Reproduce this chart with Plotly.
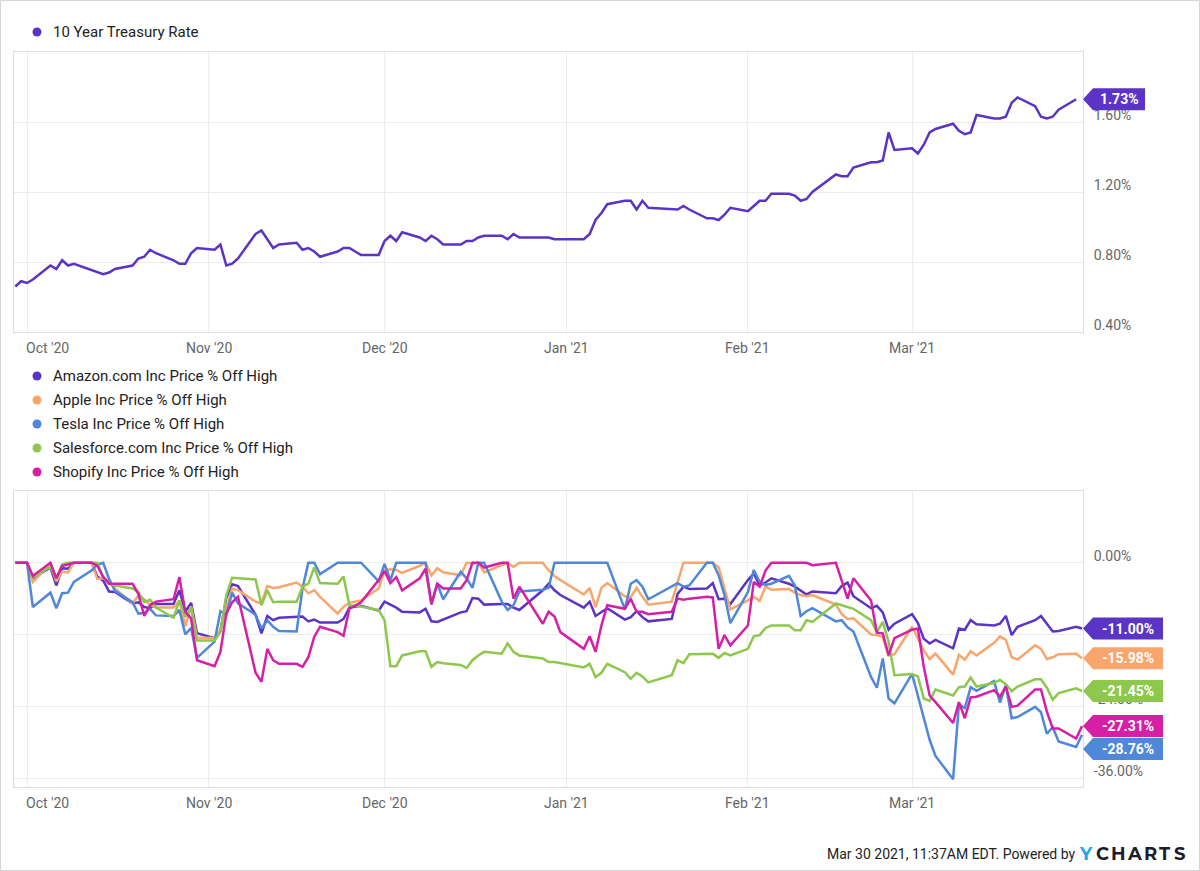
import plotly.graph_objects as go

# ------------------------------------------------------------------ data
MONTHS = ["2020-09", "2020-10", "2020-11", "2020-12", "2021-01", "2021-02", "2021-03"]

STOCK_DAYS = [
    [29, 30],
    [1, 2, 5, 6, 7, 8, 9, 12, 13, 14, 15, 16, 19, 20, 21, 22, 23, 26, 27, 28, 29, 30],
    [2, 3, 4, 5, 6, 9, 10, 11, 12, 13, 16, 17, 18, 19, 20, 23, 24, 25, 27, 30],
    [1, 2, 3, 4, 7, 8, 9, 10, 11, 14, 15, 16, 17, 18, 21, 22, 23, 24, 28, 29, 30, 31],
    [4, 5, 6, 7, 8, 11, 12, 13, 14, 15, 19, 20, 21, 22, 25, 26, 27, 28, 29],
    [1, 2, 3, 4, 5, 8, 9, 10, 11, 12, 16, 17, 18, 19, 22, 23, 24, 25, 26],
    [1, 2, 3, 4, 5, 8, 9, 10, 11, 12, 15, 16, 17, 18, 19, 22, 23, 24, 25, 26, 29, 30],
]
TREASURY_DAYS = [
    [29, 30],
    [1, 2, 5, 6, 7, 8, 9, 13, 14, 15, 16, 19, 20, 21, 22, 23, 26, 27, 28, 29, 30],
    [2, 3, 4, 5, 6, 9, 10, 12, 13, 16, 17, 18, 19, 20, 23, 24, 25, 27, 30],
    [1, 2, 3, 4, 7, 8, 9, 10, 11, 14, 15, 16, 17, 18, 21, 22, 23, 24, 28, 29, 30, 31],
    [4, 5, 6, 7, 8, 11, 12, 13, 14, 15, 19, 20, 21, 22, 25, 26, 27, 28, 29],
    [1, 2, 3, 4, 5, 8, 9, 10, 11, 12, 16, 17, 18, 19, 22, 23, 24, 25, 26],
    [1, 2, 3, 4, 5, 8, 9, 10, 11, 12, 15, 16, 17, 18, 19, 22, 23, 24, 25, 26, 29],
]

TREASURY_RATE = [
    0.66, 0.69,
    0.68, 0.70, 0.78, 0.76, 0.81, 0.78, 0.79, 0.74, 0.73, 0.74, 0.76, 0.78, 0.82, 0.83, 0.87, 0.85, 0.81, 0.79, 0.79, 0.85, 0.88,
    0.87, 0.90, 0.78, 0.79, 0.82, 0.96, 0.98, 0.88, 0.90, 0.91, 0.87, 0.88, 0.86, 0.83, 0.86, 0.88, 0.88, 0.84, 0.84,
    0.92, 0.95, 0.92, 0.97, 0.94, 0.92, 0.95, 0.93, 0.90, 0.90, 0.92, 0.92, 0.94, 0.95, 0.95, 0.93, 0.96, 0.94, 0.94, 0.94, 0.93, 0.93,
    0.93, 0.96, 1.04, 1.08, 1.13, 1.15, 1.15, 1.10, 1.15, 1.11, 1.10, 1.10, 1.12, 1.10, 1.05, 1.05, 1.04, 1.07, 1.11,
    1.09, 1.12, 1.15, 1.15, 1.19, 1.19, 1.18, 1.15, 1.16, 1.20, 1.30, 1.29, 1.29, 1.34, 1.37, 1.37, 1.38, 1.54, 1.44,
    1.45, 1.42, 1.47, 1.54, 1.56, 1.59, 1.55, 1.53, 1.54, 1.64, 1.62, 1.62, 1.63, 1.71, 1.74, 1.69, 1.63, 1.62, 1.63, 1.67, 1.73,
]

AMAZON = [
    0.0, 0.0,
    0.0, -2.6, -0.8, -3.8, -0.9, -1.0, 0.0, 0.0, -2.3, -3.0, -4.8, -4.9, -6.8, -6.6, -7.4, -7.6, -6.9, -6.9, -4.6, -8.2, -6.7, -11.8,
    -12.6, -11.4, -5.9, -3.6, -3.9, -8.7, -11.8, -8.9, -9.6, -9.2, -9.1, -9.0, -9.8, -9.5, -10.0, -10.0, -9.4, -7.5, -7.2, -8.0,
    -6.5, -7.0, -7.5, -8.2, -8.3, -7.7, -9.8, -9.9, -9.5, -8.3, -8.1, -5.9, -6.0, -7.0, -6.9, -6.9, -7.5, -7.9, -4.6, -3.5, -4.6, -5.4,
    -7.5, -6.5, -8.9, -8.2, -7.6, -9.5, -9.1, -8.1, -9.1, -9.8, -9.4, -5.2, -4.0, -4.4, -4.3, -3.4, -6.1, -6.0, -6.9,
    -2.9, -1.8, -3.8, -3.3, -2.6, -3.5, -4.0, -4.6, -5.3, -4.8, -5.1, -3.9, -3.3, -5.6, -7.6, -7.2, -8.3, -11.2, -10.2,
    -8.6, -10.1, -12.7, -13.5, -12.9, -14.3, -11.0, -11.2, -9.6, -10.3, -10.5, -10.2, -8.9, -12.1, -10.7, -9.6, -8.9, -10.3, -11.5, -11.4, -10.7, -11.00,
]
APPLE = [
    0.0, 0.0,
    0.0, -3.2, -0.2, -3.1, -1.5, -1.6, 0.0, 0.0, -2.7, -2.6, -3.0, -4.3, -6.8, -5.5, -6.1, -7.0, -7.5, -7.5, -6.3, -10.6, -7.3, -12.5,
    -12.6, -11.2, -7.6, -4.3, -4.6, -6.5, -6.8, -3.9, -4.2, -4.1, -3.3, -4.0, -5.1, -4.6, -5.7, -8.5, -7.4, -6.7, -6.3, -4.3,
    -1.3, -1.1, -1.2, -1.7, -0.5, 0.0, -2.1, -0.9, -1.6, -2.1, 0.0, -0.1, 0.0, -1.6, -0.4, 0.0, -0.7, 0.0, 0.0, -1.3, -2.2, -2.9,
    -5.3, -4.2, -7.4, -4.2, -3.4, -5.6, -5.8, -4.2, -5.7, -7.0, -6.5, -3.4, 0.0, 0.0, 0.0, 0.0, -0.8, -4.2, -7.8,
    -6.3, -5.7, -6.4, -4.0, -4.5, -4.4, -5.0, -5.4, -5.6, -5.4, -7.0, -8.6, -9.4, -9.3, -12.0, -12.1, -12.4, -15.5, -15.3,
    -10.7, -12.6, -14.7, -16.1, -15.2, -18.7, -15.4, -16.2, -14.8, -15.5, -13.4, -12.3, -12.9, -15.8, -16.2, -13.8, -14.4, -16.1, -15.8, -15.3, -15.2, -15.98,
]
TESLA = [
    0.0, 0.0,
    0.0, -7.4, -5.0, -7.6, -5.1, -5.0, -3.2, -1.3, -0.3, 0.0, -2.7, -4.7, -6.6, -8.5, -8.4, -7.7, -8.8, -8.9, -7.9, -12.0, -10.9, -15.9,
    -13.2, -8.1, -8.7, -5.0, -6.8, -8.7, -11.0, -9.6, -10.7, -11.4, -11.5, -4.3, 0.0, 0.0, -1.9, 0.0, 0.0, 0.0, 0.0, -3.1,
    -0.2, -2.9, 0.0, 0.0, 0.0, 0.0, -7.0, -3.5, -6.1, -1.5, -2.6, -4.2, 0.0, 0.0, -6.5, -7.9, -7.1, -4.8, -4.5, -4.2, 0.0, 0.0,
    0.0, 0.0, 0.0, 0.0, 0.0, -7.8, -3.5, -2.9, -4.0, -6.1, -4.0, -3.4, -4.0, -3.8, 0.0, 0.0, -2.1, -5.4, -10.1,
    -4.9, -1.2, -3.2, -3.7, -3.5, -2.2, -3.8, -8.9, -8.1, -7.6, -9.8, -9.6, -10.8, -11.5, -19.1, -20.9, -16.0, -22.7, -23.5,
    -18.6, -22.3, -26.0, -29.6, -32.3, -36.2, -23.7, -24.3, -20.8, -21.4, -19.8, -23.4, -20.5, -26.0, -25.8, -24.1, -25.0, -28.6, -27.5, -29.9, -30.8, -28.76,
]
SALESFORCE = [
    0.0, 0.0,
    0.0, -2.4, -0.7, -2.6, -0.3, 0.0, 0.0, 0.0, 0.0, -2.4, -3.5, -3.8, -4.3, -4.9, -6.6, -6.2, -7.5, -9.2, -6.3, -9.1, -7.5, -13.0,
    -13.0, -11.6, -5.5, -2.5, -2.6, -2.8, -7.1, -4.6, -6.6, -6.5, -6.5, -4.0, -3.5, -0.8, -3.4, -3.5, -2.3, -7.1, -7.3, -7.9,
    -9.6, -17.3, -17.3, -15.5, -14.8, -14.8, -17.4, -16.6, -16.8, -17.1, -17.6, -16.3, -15.5, -14.9, -15.2, -13.5, -14.9, -15.5, -16.0, -16.6, -16.6, -16.8,
    -17.5, -16.9, -19.1, -18.4, -16.9, -18.3, -19.4, -18.4, -19.0, -20.0, -18.8, -16.3, -16.8, -15.3, -15.3, -15.2, -15.9, -15.1, -15.5,
    -14.4, -12.3, -12.1, -10.9, -10.5, -10.5, -11.3, -11.3, -9.6, -9.9, -6.8, -7.1, -7.4, -7.7, -9.6, -11.6, -9.9, -13.2, -18.8,
    -18.6, -19.0, -22.7, -23.1, -21.2, -22.2, -20.8, -20.7, -19.2, -20.7, -20.1, -19.6, -20.3, -21.5, -20.7, -19.5, -19.5, -20.9, -22.9, -21.8, -21.0, -21.45,
]
SHOPIFY = [
    0.0, 0.0,
    0.0, -2.2, 0.0, -2.6, -0.5, -0.3, 0.0, 0.0, -0.5, -2.4, -3.5, -3.5, -3.5, -5.2, -8.9, -7.1, -6.5, -6.1, -2.4, -8.2, -9.3, -16.3,
    -17.3, -14.9, -8.5, -6.6, -5.7, -18.4, -19.9, -14.4, -16.3, -16.9, -16.9, -17.4, -15.8, -12.4, -10.7, -11.6, -12.2, -7.7, -6.6, -2.9,
    -1.4, -3.4, -2.4, -4.6, -2.6, -1.0, -6.9, -3.5, -4.3, -4.3, -2.9, 0.0, 0.0, -0.8, 0.0, 0.0, -6.0, -4.0, -10.2, -8.2, -9.0, -11.6,
    -14.4, -12.3, -14.9, -10.5, -7.1, -7.7, -6.0, -8.2, -8.2, -8.6, -8.2, -6.0, -6.2, -6.0, -5.7, -5.8, -14.4, -12.1, -13.8,
    -10.5, -3.2, -4.0, -1.3, 0.0, 0.0, 0.0, 0.0, 0.0, -0.4, 0.0, -3.0, -6.0, -2.6, -6.3, -11.7, -11.8, -15.5, -12.6,
    -11.2, -11.0, -17.4, -22.2, -23.3, -26.8, -23.3, -26.0, -22.5, -22.4, -21.3, -22.4, -20.7, -24.1, -23.9, -21.2, -21.2, -24.9, -27.7, -27.7, -29.4, -27.31,
]

TOP_NAME = "10 Year Treasury Rate"
STOCK_NAMES = [
    "Amazon.com Inc Price % Off High",
    "Apple Inc Price % Off High",
    "Tesla Inc Price % Off High",
    "Salesforce.com Inc Price % Off High",
    "Shopify Inc Price % Off High",
]
STOCK_VALUES = [AMAZON, APPLE, TESLA, SALESFORCE, SHOPIFY]
STOCK_COLORS = ["#5b34c6", "#f9a56c", "#4f88d9", "#8dc74c", "#d61fa6"]
TOP_COLOR = "#5b34c6"

TOP_TICKS = [0.4, 0.8, 1.2, 1.6]
BOT_TICKS = [0, -12, -24, -36]
MONTH_TICKS = ["2020-10-01", "2020-11-01", "2020-12-01", "2021-01-01", "2021-02-01", "2021-03-01"]
MONTH_LABELS = ["Oct '20", "Nov '20", "Dec '20", "Jan '21", "Feb '21", "Mar '21"]
FOOTER = "Mar 30 2021, 11:37AM EDT. Powered by"


def build_dates(days_by_month):
    out = []
    for m, days in zip(MONTHS, days_by_month):
        out += [f"{m}-{d:02d}" for d in days]
    return out


STOCK_DATES = build_dates(STOCK_DAYS)
TREASURY_DATES = build_dates(TREASURY_DAYS)

# ------------------------------------------------------------------ layout geometry (pixels)
FIG_W, FIG_H = 1200, 871
PL, PR = 14, 1083
TOP_T, TOP_B = 52, 332
BOT_T, BOT_B = 491, 787
PW, PH = PR - PL, BOT_B - TOP_T
X_RANGE = ["2020-09-28 18:45", "2021-03-30 04:00"]
TOP_RANGE = [0.4, 2.0]
BOT_RANGE = [-37.5, 12.0]
FONT = "Roboto, Arial, sans-serif"
GRID = "#ececec"
FRAME = "#dddddd"
TICK_COL = "#666666"
TEXT_COL = "#222222"


def xp(px):
    return (px - PL) / PW


def yp(py):
    return (BOT_B - py) / PH


fig = go.Figure()
fig.add_trace(go.Scatter(x=TREASURY_DATES, y=TREASURY_RATE, mode="lines", name=TOP_NAME,
                         line=dict(color=TOP_COLOR, width=2.5), xaxis="x", yaxis="y",
                         showlegend=False, hoverinfo="skip"))
for name, vals, col in zip(STOCK_NAMES, STOCK_VALUES, STOCK_COLORS):
    fig.add_trace(go.Scatter(x=STOCK_DATES, y=vals, mode="lines", name=name,
                             line=dict(color=col, width=2.5), xaxis="x2", yaxis="y2",
                             showlegend=False, hoverinfo="skip"))

xcommon = dict(type="date", range=X_RANGE, tickvals=MONTH_TICKS, showticklabels=False,
               showgrid=True, gridcolor=GRID, gridwidth=1, showline=True, mirror=True,
               linecolor=FRAME, linewidth=1, zeroline=False, ticks="")
ycommon = dict(side="right", showgrid=True, gridcolor=GRID, gridwidth=1, showline=True,
               mirror=True, linecolor=FRAME, linewidth=1, zeroline=False, ticks="",
               tickfont=dict(family=FONT, size=14, color=TICK_COL),
               ticklabelshift=-7, ticklabelstandoff=7)

fig.update_layout(
    width=FIG_W, height=FIG_H, autosize=False,
    margin=dict(l=PL, r=FIG_W - PR, t=TOP_T, b=FIG_H - BOT_B, pad=0),
    paper_bgcolor="white", plot_bgcolor="white",
    font=dict(family=FONT, size=14, color=TEXT_COL),
    showlegend=False,
    xaxis=dict(domain=[0, 1], anchor="y", **xcommon),
    xaxis2=dict(domain=[0, 1], anchor="y2", **xcommon),
    yaxis=dict(domain=[yp(TOP_B), 1], anchor="x", range=TOP_RANGE, tickvals=TOP_TICKS,
               ticktext=[f"{v:.2f}%" for v in TOP_TICKS], **ycommon),
    yaxis2=dict(domain=[0, yp(BOT_T)], anchor="x2", range=BOT_RANGE, tickvals=BOT_TICKS,
                ticktext=[f"{v:.2f}%" for v in BOT_TICKS], **ycommon),
)

shapes = []
ann = []

# outer frame of the picture
shapes.append(dict(type="rect", xref="paper", yref="paper", x0=xp(0.5), x1=xp(FIG_W - 0.5),
                   y0=yp(FIG_H - 0.5), y1=yp(0.5), line=dict(color="#d6d6d6", width=1),
                   layer="below"))

# month labels under both panels
for xr, yr in (("x", "y domain"), ("x2", "y2 domain")):
    for i, (tv, tl) in enumerate(zip(MONTH_TICKS, MONTH_LABELS)):
        ann.append(dict(x=tv, xref=xr, y=0, yref=yr, yanchor="middle", yshift=-16,
                        xshift=20 if i == 0 else 0, text=tl, showarrow=False,
                        font=dict(family=FONT, size=14, color=TICK_COL)))


# legends
def legend_item(row_y, color, label):
    shapes.append(dict(type="circle", xref="paper", yref="paper", xsizemode="pixel",
                       ysizemode="pixel", xanchor=xp(37), yanchor=yp(row_y),
                       x0=-4.5, x1=4.5, y0=-4.5, y1=4.5, fillcolor=color,
                       line=dict(width=0)))
    ann.append(dict(x=xp(51), y=yp(row_y), xref="paper", yref="paper", xanchor="left",
                    yanchor="middle", text=label, showarrow=False,
                    font=dict(family=FONT, size=15, color=TEXT_COL)))


legend_item(32, TOP_COLOR, TOP_NAME)
for k, (name, col) in enumerate(zip(STOCK_NAMES, STOCK_COLORS)):
    legend_item(376 + 24 * k, col, name)


# value flags at the right edge
def flag(yref, yval, color, text, width):
    path = f"M0,0 L10,11 L{width},11 L{width},-11 L10,-11 Z"
    shapes.append(dict(type="path", xref="paper", yref=yref, xsizemode="pixel",
                       ysizemode="pixel", xanchor=1.0, yanchor=yval, path=path,
                       fillcolor=color, line=dict(width=0), layer="above"))
    ann.append(dict(x=1.0, xref="paper", y=yval, yref=yref, xanchor="center",
                    yanchor="middle", xshift=10 + (width - 10) / 2, text=f"<b>{text}</b>",
                    showarrow=False, font=dict(family=FONT, size=14, color="white")))


flag("y", TREASURY_RATE[-1], TOP_COLOR, f"{TREASURY_RATE[-1]:.2f}%", 62)

px_per_unit = (BOT_B - BOT_T) / (BOT_RANGE[1] - BOT_RANGE[0])
order = sorted(range(len(STOCK_VALUES)), key=lambda i: -STOCK_VALUES[i][-1])
prev_px = None
for i in order:
    v = STOCK_VALUES[i][-1]
    pos_px = BOT_T + (BOT_RANGE[1] - v) * px_per_unit
    if prev_px is not None and pos_px < prev_px + 23:
        pos_px = prev_px + 23
    prev_px = pos_px
    y_disp = BOT_RANGE[1] - (pos_px - BOT_T) / px_per_unit
    flag("y2", y_disp, STOCK_COLORS[i], f"{v:.2f}%", 80)

# footer
ann.append(dict(x=xp(1078), y=yp(854), xref="paper", yref="paper", xanchor="right",
                yanchor="middle", text=FOOTER, showarrow=False,
                font=dict(family=FONT, size=14, color=TEXT_COL)))
LOGO = [("Y", "#1fa6e6", 1086), ("C", "#1c1c2c", 1102), ("H", "#1c1c2c", 1118),
        ("A", "#1c1c2c", 1134), ("R", "#1c1c2c", 1150), ("T", "#1c1c2c", 1165),
        ("S", "#1c1c2c", 1179)]
for ch, col, cx in LOGO:
    ann.append(dict(x=xp(cx), y=yp(854), xref="paper", yref="paper", xanchor="center",
                    yanchor="middle", text=f"<b>{ch}</b>", showarrow=False,
                    font=dict(family="Montserrat, Roboto, Arial, sans-serif", size=18, color=col)))

fig.update_layout(shapes=shapes, annotations=ann)
fig.write_html("out.html")
